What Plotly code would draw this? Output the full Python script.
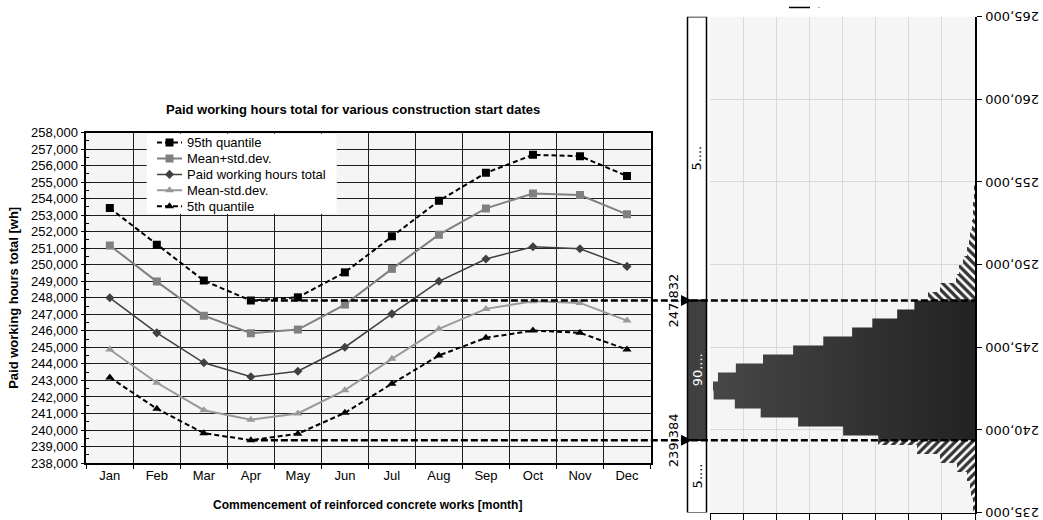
import plotly.graph_objects as go

# ---------------- data ----------------
months = ["Jan", "Feb", "Mar", "Apr", "May", "Jun", "Jul", "Aug", "Sep", "Oct", "Nov", "Dec"]
q95 = [253430, 251210, 249040, 247832, 248030, 249540, 251720, 253870, 255560, 256650, 256570, 255370]
mean_plus = [251170, 248980, 246920, 245860, 246080, 247590, 249750, 251820, 253410, 254310, 254220, 253050]
paid_total = [248000, 245880, 244070, 243220, 243560, 245010, 247030, 249000, 250350, 251090, 250970, 249900]
mean_minus = [244870, 242860, 241200, 240620, 241000, 242410, 244310, 246120, 247330, 247790, 247690, 246620]
q5 = [243180, 241290, 239810, 239384, 239780, 241040, 242800, 244510, 245580, 246020, 245880, 244870]

# histogram of the April start (bin centres in wh, bar length in grid units)
bin_width = 544
bin_centers = [254632, 254088, 253544, 253000, 252456, 251912, 251368, 250824, 250280, 249736,
               249192, 248648, 248104, 247560, 247016, 246472, 245928, 245384, 244840, 244296,
               243752, 243208, 242664, 242120, 241576, 241032, 240488, 239944, 239400, 238856,
               238312, 237768, 237224, 236680, 236136, 235592, 235048]
bin_counts = [0.02, 0.03, 0.05, 0.07, 0.10, 0.14, 0.19, 0.25, 0.35, 0.48,
              0.58, 1.06, 1.41, 1.83, 2.35, 3.10, 3.71, 4.58, 5.49, 6.40,
              7.22, 7.76, 7.91, 7.89, 7.25, 6.47, 5.34, 3.98, 2.92, 1.76,
              1.06, 0.55, 0.25, 0.15, 0.12, 0.07, 0.04]

strip_labels = ["5....", "90....", "5...."]
hist_ticks = [235000, 240000, 245000, 250000, 255000, 260000, 265000]

q_hi = min(q95)
q_lo = min(q5)

# ---------------- layout geometry ----------------
W, H = 1043, 530


def YP(v):
    """vertical target position (px from top) -> paper fraction"""
    p = (v - 6.0) / 0.973
    return 1 - max(p, 0.5) / H


LX = [86.3 / W, 650.5 / W]
LY = [YP(462.7), YP(131.7)]
RX = [710 / W, 975 / W]
RY = [YP(512.3), YP(15.7)]
SX = [687.5 / W, 706.5 / W]
LEGX = [146.7 / W, 336.7 / W]
LEGY = [YP(213), YP(133)]

ARIAL = "Liberation Sans, Arial, sans-serif"
DEJAVU = "DejaVu Sans, sans-serif"

fig = go.Figure()

series = [
    ("95th quantile", q95, dict(color="#000000", width=2, dash="5px,3px"), dict(symbol="square", size=8, color="#000000")),
    ("Mean+std.dev.", mean_plus, dict(color="#808080", width=2), dict(symbol="square", size=8, color="#808080")),
    ("Paid working hours total", paid_total, dict(color="#404040", width=1.5), dict(symbol="diamond", size=7, color="#404040")),
    ("Mean-std.dev.", mean_minus, dict(color="#9a9a9a", width=2), dict(symbol="triangle-up", size=8, color="#9a9a9a")),
    ("5th quantile", q5, dict(color="#000000", width=2, dash="5px,3px"), dict(symbol="triangle-up", size=8, color="#000000")),
]
for name, vals, line, marker in series:
    fig.add_trace(go.Scatter(x=months, y=vals, name=name, mode="lines+markers",
                             line=line, marker=marker, xaxis="x", yaxis="y", showlegend=False))

# ---- histogram split into regions ----
regions = [("upper", q_hi, 1e12), ("mid", q_lo, q_hi), ("lower", -1e12, q_lo)]
segs = {k: [] for k, _, _ in regions}
for c, n in zip(bin_centers, bin_counts):
    a, b = c - bin_width / 2, c + bin_width / 2
    for key, lo_r, hi_r in regions:
        lo_, hi_ = max(a, lo_r), min(b, hi_r)
        if hi_ > lo_:
            segs[key].append(((lo_ + hi_) / 2, hi_ - lo_, n))

for key, shape in (("upper", "\\"), ("lower", "/")):
    s = segs[key]
    fig.add_trace(go.Bar(orientation="h", x=[t[2] for t in s], y=[t[0] for t in s],
                         width=[t[1] for t in s], xaxis="x2", yaxis="y2", showlegend=False,
                         marker=dict(color="white", line=dict(width=0),
                                     pattern=dict(shape=shape, fgcolor="#333333", bgcolor="white",
                                                  size=6, solidity=0.55, fillmode="replace"))))

# central 90% region as stepped polygon with gradient fill
mid = sorted(segs["mid"], key=lambda t: -t[0])
px, py = [0], [q_hi]
for c, w, n in mid:
    px += [n, n]
    py += [c + w / 2, c - w / 2]
px += [0, 0]
py += [q_lo, q_hi]
fig.add_trace(go.Scatter(x=px, y=py, mode="lines", fill="toself", line=dict(width=0),
                         fillgradient=dict(type="horizontal",
                                           colorscale=[[0, "#474747"], [1, "#222222"]]),
                         xaxis="x2", yaxis="y2", showlegend=False, hoverinfo="skip"))

# ---- custom legend panel (subplot x3/y3) ----
fig.add_trace(go.Scatter(x=[0, 1, 1, 0, 0], y=[0, 0, 1, 1, 0], mode="lines", fill="toself",
                         fillcolor="white", line=dict(width=0), xaxis="x3", yaxis="y3",
                         showlegend=False, hoverinfo="skip"))
leg_rows = [0.8925, 0.6925, 0.4925, 0.2925, 0.0925]
leg_x = [0.054, 0.12, 0.186, 0.2]
leg_ann = []
for (name, vals, line, marker), yy in zip(series, leg_rows):
    fig.add_trace(go.Scatter(x=[leg_x[0], leg_x[2]], y=[yy, yy], mode="lines", line=line,
                             xaxis="x3", yaxis="y3", showlegend=False, hoverinfo="skip"))
    fig.add_trace(go.Scatter(x=[leg_x[1]], y=[yy], mode="markers", marker=marker,
                             xaxis="x3", yaxis="y3", showlegend=False, hoverinfo="skip"))
    leg_ann.append(dict(text=name, xref="x3", yref="y3", x=leg_x[3], y=yy, xanchor="left",
                        yanchor="middle", showarrow=False,
                        font=dict(family=ARIAL, size=13, color="black")))

# ---------------- shapes ----------------
shapes = []
idx_hi = q95.index(q_hi)
idx_lo = q5.index(q_lo)
for idx, val in ((idx_hi, q_hi), (idx_lo, q_lo)):
    x0 = LX[0] + (idx + 0.5) / len(months) * (LX[1] - LX[0])
    shapes.append(dict(type="line", xref="paper", yref="y", x0=x0, x1=RX[1], y0=val, y1=val,
                       line=dict(color="black", width=2.5, dash="7px,3px"), layer="above"))

strip_bounds = [(q_hi, hist_ticks[-1], "white"), (q_lo, q_hi, "#404040"), (hist_ticks[0], q_lo, "white")]
for y0, y1, col in strip_bounds:
    shapes.append(dict(type="rect", xref="paper", yref="y2", x0=SX[0], x1=SX[1], y0=y0, y1=y1,
                       fillcolor=col, line=dict(color="black", width=1.5), layer="below"))

# clipped fragment of the (cut-off) histogram caption at the top edge
shapes.append(dict(type="line", xref="paper", yref="paper", x0=789 / W, x1=810 / W,
                   y0=YP(4), y1=YP(4), line=dict(color="black", width=1.5)))
shapes.append(dict(type="line", xref="paper", yref="paper", x0=818 / W, x1=820 / W,
                   y0=YP(4), y1=YP(4), line=dict(color="#aaaaaa", width=1)))

# ---------------- annotations ----------------
ann = list(leg_ann)
ann.append(dict(text="<b>Paid working hours total for various construction start dates</b>",
                xref="paper", yref="paper", x=352.5 / W, y=YP(109), xanchor="center",
                yanchor="middle", showarrow=False, font=dict(family=ARIAL, size=13, color="black")))
ann.append(dict(text="<b>Paid working hours total [wh]</b>", xref="paper", yref="paper",
                x=14 / W, y=(LY[0] + LY[1]) / 2, xanchor="center", yanchor="middle",
                textangle=-90, showarrow=False, font=dict(family=ARIAL, size=13, color="black")))
ann.append(dict(text="<b>Commencement of reinforced concrete works [month]</b>", xref="paper",
                yref="paper", x=367.5 / W, y=YP(505), xanchor="center", yanchor="middle",
                showarrow=False, font=dict(family=ARIAL, size=12, color="black")))

for t in hist_ticks:
    ann.append(dict(text=f"{t:,}", xref="paper", yref="y2", x=RX[1] + 8 / W, y=t, xanchor="left",
                    yanchor="middle", textangle=180, showarrow=False,
                    font=dict(family=DEJAVU, size=13, color="black")))

for (y0, y1, col), lab in zip(strip_bounds, strip_labels):
    ann.append(dict(text=lab, xref="paper", yref="y2", x=(SX[0] + SX[1]) / 2, y=(y0 + y1) / 2,
                    xanchor="center", yanchor="middle", textangle=-90, showarrow=False,
                    font=dict(family=DEJAVU, size=13, color="white" if col != "white" else "black")))

for val in (q_hi, q_lo):
    ann.append(dict(text=f"{val:,}", xref="paper", yref="y2", x=673 / W, y=val, textangle=-90,
                    xanchor="center", yanchor="middle", showarrow=False,
                    font=dict(family=DEJAVU, size=13, color="black")))
    ann.append(dict(text="", xref="paper", yref="y2", x=SX[0] + 4.5 / W, y=val, ax=-12, ay=0,
                    showarrow=True, arrowhead=2, arrowsize=1.1, arrowwidth=2, arrowcolor="black"))

fig.update_layout(
    width=W, height=H, margin=dict(l=0, r=0, t=0, b=0),
    paper_bgcolor="white", plot_bgcolor="#f5f5f5",
    barmode="overlay", bargap=0, hovermode=False, showlegend=False,
    font=dict(family=ARIAL, size=13, color="black"),
    shapes=shapes, annotations=ann,
    xaxis=dict(domain=LX, anchor="y", type="category", range=[-0.5, len(months) - 0.5],
               tickson="boundaries", ticks="outside", ticklen=4, tickcolor="black",
               showgrid=True, gridcolor="#1e1e1e", gridwidth=1,
               showline=True, linecolor="black", linewidth=1.5, mirror=True,
               tickfont=dict(family=ARIAL, size=13, color="black")),
    yaxis=dict(domain=LY, anchor="x", range=[238000, 258000], dtick=1000, tickformat=",",
               ticks="outside", ticklen=4, tickcolor="black",
               minor=dict(ticks="inside", ticklen=3, dtick=500, tickcolor="black", showgrid=False),
               showgrid=True, gridcolor="#1e1e1e", gridwidth=1, zeroline=False,
               showline=True, linecolor="black", linewidth=1.5, mirror=True,
               tickfont=dict(family=ARIAL, size=13, color="black")),
    xaxis2=dict(domain=RX, anchor="y2", range=[8, 0], dtick=1, showticklabels=False,
                ticks="outside", ticklen=6, tickcolor="black", showgrid=True, gridcolor="#d9d9d9",
                zeroline=False, showline=True, linecolor="black", linewidth=1),
    yaxis2=dict(domain=RY, anchor="x2", side="right", range=[hist_ticks[0], hist_ticks[-1]],
                dtick=5000, showticklabels=False, ticks="outside", ticklen=5, tickcolor="black",
                showgrid=True, gridcolor="#d9d9d9", zeroline=False,
                showline=True, linecolor="black", linewidth=1.5),
    xaxis3=dict(domain=LEGX, anchor="y3", range=[0, 1], visible=False, fixedrange=True),
    yaxis3=dict(domain=LEGY, anchor="x3", range=[0, 1], visible=False, fixedrange=True),
)

post = ("document.documentElement.style.margin='0px';document.body.style.margin='0px';"
        "document.documentElement.style.overflow='hidden';document.body.style.overflow='hidden';"
        "var d=document.getElementById('{plot_id}');d.style.position='fixed';"
        "d.style.top='0px';d.style.left='0px';")
fig.write_html("out.html", config={"displayModeBar": False}, post_script=post)
